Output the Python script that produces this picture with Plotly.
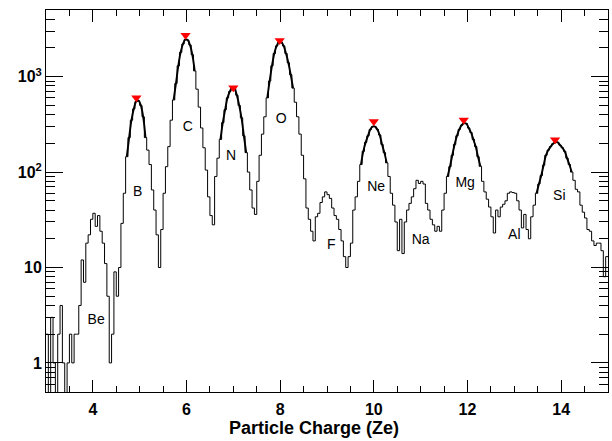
import plotly.graph_objects as go

# ---------------- data ----------------
bin_start = 3.0
bin_width = 0.05

# histogram counts, one row per unit of charge (20 bins of 0.05 each)
counts_3 = [2, 0, 3, 1, 0, 2, 4, 1, 0, 1, 2, 1, 2, 2, 4, 12, 7, 18, 22, 32]
counts_4 = [37, 27, 35, 24, 18, 11, 5, 1, 2, 9, 5, 10, 29, 60, 145, 230, 350, 460, 550, 560]
counts_5 = [500, 380, 230, 170, 120, 65, 40, 22, 10, 25, 60, 114, 185, 350, 570, 850, 1300, 1800, 2200, 2450]
counts_6 = [2420, 2150, 1700, 1150, 740, 480, 290, 180, 105, 55, 35, 28, 90, 140, 220, 330, 450, 600, 700, 770]
counts_7 = [750, 640, 500, 370, 240, 160, 100, 65, 42, 36, 80, 150, 250, 380, 600, 900, 1300, 1750, 2100, 2320]
counts_8 = [2300, 2100, 1750, 1400, 1050, 760, 540, 380, 250, 150, 85, 42, 32, 24, 19, 34, 37, 48, 55, 62]
counts_9 = [58, 53, 42, 35, 32, 25, 19, 13, 10, 13, 18, 40, 55, 80, 120, 165, 205, 240, 280, 300]
counts_10 = [300, 280, 245, 195, 160, 125, 90, 60, 45, 30, 15, 32, 14, 30, 40, 47, 55, 67, 82, 76]
counts_11 = [80, 75, 47, 40, 32, 28, 24, 27, 24, 40, 60, 90, 114, 150, 195, 240, 280, 310, 325, 322]
counts_12 = [290, 260, 220, 185, 145, 115, 80, 62, 52, 43, 34, 23, 40, 34, 43, 46, 50, 60, 62, 61]
counts_13 = [60, 50, 40, 26, 36, 25, 20, 34, 45, 60, 75, 92, 118, 150, 170, 185, 198, 205, 205, 192]
counts_14 = [180, 165, 140, 120, 100, 82, 66, 62, 45, 38, 33, 25, 24, 19, 17, 18, 18, 15, 8, 13]

counts = (counts_3 + counts_4 + counts_5 + counts_6 + counts_7 + counts_8 +
          counts_9 + counts_10 + counts_11 + counts_12 + counts_13 + counts_14)

# fit ranges (charge) of the peak fits
fit_lo = [4.72, 5.72, 6.72, 7.70, 9.68, 11.53, 13.43]
fit_hi = [5.15, 6.22, 7.28, 8.28, 10.32, 12.28, 14.26]

# found peaks
peak_z = [4.93, 5.98, 7.00, 7.99, 10.00, 11.92, 13.87]
peak_counts = [600, 2720, 767, 2390, 340, 351, 218]

# element labels
label_text = ["Be", "B", "C", "N", "O", "F", "Ne", "Na", "Mg", "Al", "Si"]
label_z = [4.07, 4.96, 6.03, 6.95, 8.02, 9.09, 10.05, 11.00, 11.95, 13.00, 13.96]
label_y = [2.8, 61, 292, 145, 357, 16.9, 69, 19, 76, 21.5, 56]

x_ticks = [4, 6, 8, 10, 12, 14]
y_ticks = [1, 10, 100, 1000]
y_ticktext = ["1", "10", "10<sup>2</sup>", "10<sup>3</sup>"]
x_title = "Particle Charge (Ze)"

# ---------------- figure ----------------
n = len(counts)
edges = [round(bin_start + i * bin_width, 4) for i in range(n + 1)]
centers = [round(bin_start + (i + 0.5) * bin_width, 4) for i in range(n)]
floor_val = 0.1  # empty bins drop below the frame, as in a log histogram
hist_y = [c if c > 0 else floor_val for c in counts]

fig = go.Figure()
fig.add_trace(go.Scatter(
    x=edges, y=hist_y + [hist_y[-1]], mode="lines",
    line=dict(color="black", width=1, shape="hv"),
    hoverinfo="skip", showlegend=False))

for lo, hi in zip(fit_lo, fit_hi):
    fx = [c for c in centers if lo <= c <= hi]
    fy = [counts[i] for i, c in enumerate(centers) if lo <= c <= hi]
    fig.add_trace(go.Scatter(
        x=fx, y=fy, mode="lines",
        line=dict(color="black", width=1.9, shape="spline", smoothing=1.0),
        hoverinfo="skip", showlegend=False))

fig.add_trace(go.Scatter(
    x=peak_z, y=peak_counts, mode="markers",
    marker=dict(symbol="triangle-down", color="red", size=9, line=dict(width=0)),
    showlegend=False))

fig.add_trace(go.Scatter(
    x=label_z, y=label_y, mode="text", text=label_text,
    textfont=dict(family="Liberation Sans, Arial, sans-serif", size=14, color="black"),
    showlegend=False))

font_family = "Liberation Sans, Arial, Helvetica, sans-serif"
x_minor = [3 + 0.5 * k for k in range(25)]
y_minor = [m * 10 ** e for e in range(-1, 4) for m in range(2, 10)]

fig.update_xaxes(
    range=[3, 15], tickmode="array", tickvals=x_ticks, automargin=False,
    ticks="inside", ticklen=12, tickwidth=1, tickcolor="black",
    showline=True, linecolor="black", linewidth=1, mirror="ticks",
    showgrid=False, zeroline=False, ticklabelstandoff=3,
    tickfont=dict(family=font_family, size=16, color="black", weight="bold"),
    minor=dict(tickmode="array", tickvals=x_minor, ticks="inside", ticklen=6,
               tickwidth=1, tickcolor="black", showgrid=False))

fig.update_yaxes(
    type="log", range=[-0.305, 3.699], tickmode="array", automargin=False,
    tickvals=y_ticks, ticktext=y_ticktext,
    ticks="inside", ticklen=17, tickwidth=1, tickcolor="black",
    showline=True, linecolor="black", linewidth=1, mirror="ticks",
    showgrid=False, zeroline=False,
    tickfont=dict(family=font_family, size=16, color="black", weight="bold"),
    minor=dict(tickmode="array", tickvals=y_minor, ticks="inside", ticklen=9,
               tickwidth=1, tickcolor="black", showgrid=False))

fig.add_annotation(
    text=x_title, xref="paper", yref="paper", x=0.477, y=-0.094,
    xanchor="center", yanchor="middle", showarrow=False,
    font=dict(family=font_family, size=18, color="black", weight="bold"))

fig.update_layout(
    width=612, height=441,
    margin=dict(l=46, r=4, t=10, b=49),
    paper_bgcolor="white", plot_bgcolor="white",
    showlegend=False)

fig.write_html("out.html", config={"displayModeBar": False},
               post_script="document.body.style.margin='0';document.body.style.padding='0';")
